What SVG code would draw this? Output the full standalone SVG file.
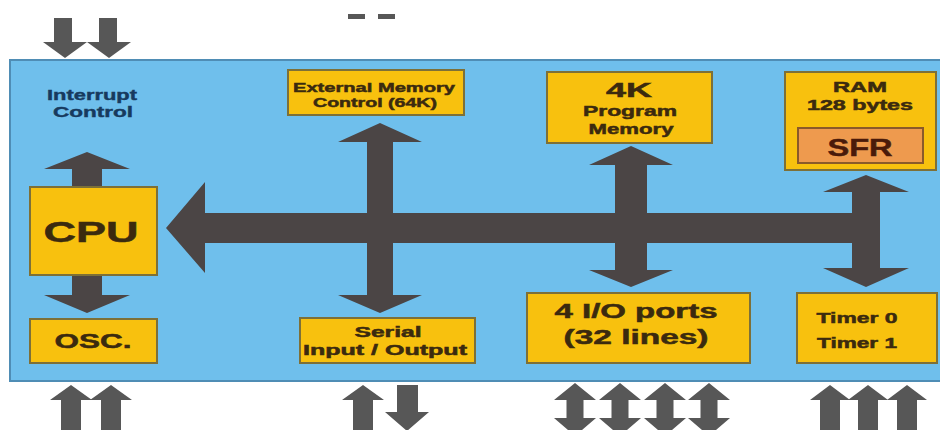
<svg xmlns="http://www.w3.org/2000/svg" width="940" height="430" viewBox="0 0 940 430">
<style>
.box{fill:#f8c10e;stroke:#7d7038;stroke-width:2}
.sfr{fill:#ee9a4e;stroke:#8a5a2a;stroke-width:2}
.t{font-family:"Liberation Sans",Arial,sans-serif;font-weight:bold;fill:#3b2a0e;stroke:#3b2a0e;stroke-width:0.5;text-anchor:middle}
.lbl{font-family:"Liberation Sans",Arial,sans-serif;font-weight:bold;fill:#173a5e;stroke:#173a5e;stroke-width:0.4;text-anchor:middle}
.ar{fill:#4b4545}
.ext{fill:#575757}
</style>
<rect x="0" y="0" width="940" height="430" fill="#ffffff"/>
<rect x="10" y="60" width="940" height="321" fill="#6fbfec" stroke="#4f8db5" stroke-width="2"/>
<g id="dashes" class="ext">
<rect x="348" y="14" width="17" height="5"/>
<rect x="378" y="14" width="17" height="5"/>
</g>
<g id="connectors">
<polygon class="ext" points="54,18 72,18 72,42 87,42 65,58 43,42 54,42"/>
<polygon class="ext" points="99,18 117,18 117,42 131,42 109,58 87,42 99,42"/>
<polygon class="ext" points="61,430 81,430 81,400 92,400 71,385 50,400 61,400"/>
<polygon class="ext" points="101,430 121,430 121,400 132,400 111,385 90,400 101,400"/>
<polygon class="ext" points="353,430 373,430 373,400 384,400 363,385 342,400 353,400"/>
<polygon class="ext" points="397,385 418,385 418,412 429,412 407,431 385,412 397,412"/>
<polygon class="ext" points="566.5,400 554,400 575,383 596,400 583.5,400 583.5,418 596,418 575,436 554,418 566.5,418"/>
<polygon class="ext" points="611.5,400 599,400 620,383 641,400 628.5,400 628.5,418 641,418 620,436 599,418 611.5,418"/>
<polygon class="ext" points="656.5,400 644,400 665,383 686,400 673.5,400 673.5,418 686,418 665,436 644,418 656.5,418"/>
<polygon class="ext" points="700.5,400 688,400 709,383 730,400 717.5,400 717.5,418 730,418 709,436 688,418 700.5,418"/>
<polygon class="ext" points="820,430 840,430 840,400 850,400 830,385 810,400 820,400"/>
<polygon class="ext" points="858,430 878,430 878,400 888,400 868,385 848,400 858,400"/>
<polygon class="ext" points="897,430 917,430 917,400 927,400 907,385 887,400 897,400"/>
<polygon class="ar" points="166,228 205,182 205,213 866,213 866,243 205,243 205,273"/>
<polygon class="ar" points="367,142 338,142 380,123 422,142 393,142 393,295 422,295 380,313 338,295 367,295"/>
<polygon class="ar" points="615,165 589,165 631,146 673,165 647,165 647,270 673,270 631,287 589,270 615,270"/>
<polygon class="ar" points="852,192 823,192 866,175 909,192 880,192 880,268 909,268 866,287 823,268 852,268"/>
<polygon class="ar" points="72,190 72,169 44,169 87,152 130,169 102,169 102,190"/>
<polygon class="ar" points="72,272 102,272 102,295 130,295 87,313 44,295 72,295"/>
</g>
<g id="interrupt">
<text class="lbl" x="92" y="100" font-size="15" textLength="90" lengthAdjust="spacingAndGlyphs">Interrupt</text>
<text class="lbl" x="93" y="117" font-size="15" textLength="80" lengthAdjust="spacingAndGlyphs">Control</text>
</g>
<g id="extmem">
<rect class="box" x="288" y="70" width="176" height="45"/>
<text class="t" x="374" y="92" font-size="13.5" textLength="162" lengthAdjust="spacingAndGlyphs">External Memory</text>
<text class="t" x="375" y="107" font-size="13.5" textLength="124" lengthAdjust="spacingAndGlyphs">Control (64K)</text>
</g>
<g id="progmem">
<rect class="box" x="547" y="72" width="165" height="71"/>
<text class="t" x="629" y="97" font-size="21" textLength="46" lengthAdjust="spacingAndGlyphs">4K</text>
<text class="t" x="630" y="116" font-size="15" textLength="94" lengthAdjust="spacingAndGlyphs">Program</text>
<text class="t" x="631" y="134" font-size="15" textLength="85" lengthAdjust="spacingAndGlyphs">Memory</text>
</g>
<g id="ram">
<rect class="box" x="785" y="72" width="151" height="98"/>
<text class="t" x="860" y="92" font-size="14.5" textLength="54" lengthAdjust="spacingAndGlyphs">RAM</text>
<text class="t" x="860" y="110" font-size="14.5" textLength="106" lengthAdjust="spacingAndGlyphs">128 bytes</text>
<g id="sfr">
<rect class="sfr" x="798" y="128" width="125" height="35"/>
<text class="t" x="860" y="156" font-size="24" textLength="65" lengthAdjust="spacingAndGlyphs" style="fill:#4a1a0a;stroke:#4a1a0a">SFR</text>
</g>
</g>
<g id="cpu">
<rect class="box" x="30" y="187" width="127" height="88"/>
<text class="t" x="91" y="242" font-size="30" textLength="95" lengthAdjust="spacingAndGlyphs">CPU</text>
</g>
<g id="osc">
<rect class="box" x="30" y="319" width="127" height="44"/>
<text class="t" x="93" y="348" font-size="20" textLength="77" lengthAdjust="spacingAndGlyphs">OSC.</text>
</g>
<g id="serial">
<rect class="box" x="300" y="318" width="175" height="45"/>
<text class="t" x="388" y="337" font-size="14.5" textLength="67" lengthAdjust="spacingAndGlyphs">Serial</text>
<text class="t" x="385" y="355" font-size="14.5" textLength="164" lengthAdjust="spacingAndGlyphs">Input / Output</text>
</g>
<g id="ioports">
<rect class="box" x="527" y="293" width="223" height="70"/>
<text class="t" x="636" y="318" font-size="20" textLength="163" lengthAdjust="spacingAndGlyphs">4 I/O ports</text>
<text class="t" x="636" y="344" font-size="20" textLength="145" lengthAdjust="spacingAndGlyphs">(32 lines)</text>
</g>
<g id="timers">
<rect class="box" x="797" y="293" width="140" height="70"/>
<text class="t" x="857" y="323" font-size="14.5" textLength="81" lengthAdjust="spacingAndGlyphs">Timer 0</text>
<text class="t" x="857" y="348" font-size="14.5" textLength="80" lengthAdjust="spacingAndGlyphs">Timer 1</text>
</g>
</svg>
